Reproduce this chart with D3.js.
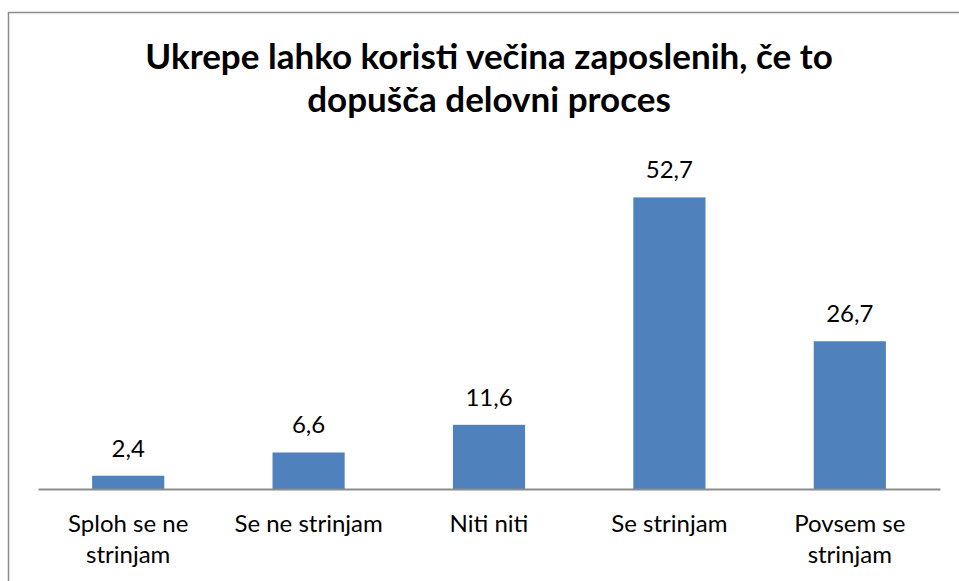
<!DOCTYPE html>
<html>
<head>
<meta charset="utf-8">
<script src="https://cdn.jsdelivr.net/npm/d3@7"></script>
<style>
    body { margin: 0; background: #fff; }
    text { font-family: Lato, "Open Sans", sans-serif; fill: #000; }
</style>
</head>
<body>
<div id="vis"></div>
<script>
var categories = [["Sploh se ne", "strinjam"], ["Se ne strinjam"], ["Niti niti"], ["Se strinjam"], ["Povsem se", "strinjam"]];
var values = [2.4, 6.6, 11.6, 52.7, 26.7];
var valueLabels = ["2,4", "6,6", "11,6", "52,7", "26,7"];
var titleLines = ["Ukrepe lahko koristi večina zaposlenih, če to", "dopušča delovni proces"];

var width = 959,
    height = 581,
    margin = { top: 157, right: 19, bottom: 92, left: 38 },
    drawWidth = width - margin.left - margin.right,
    drawHeight = height - margin.top - margin.bottom;

var svg = d3.select("#vis").append("svg")
    .attr("width", width)
    .attr("height", height);

// chart frame
svg.append("path")
    .attr("d", "M8.5," + height + "V12.5H" + width)
    .attr("fill", "none")
    .attr("stroke", "#8c8c8c")
    .attr("stroke-width", 1.5);

svg.append("text")
    .attr("x", 489)
    .attr("y", 69)
    .attr("text-anchor", "middle")
    .style("font-weight", "bold")
    .style("font-size", "35px")
    .selectAll("tspan")
    .data(titleLines)
    .enter().append("tspan")
    .attr("x", 489)
    .attr("dy", function(d, i) { return i ? 43 : 0; })
    .text(function(d) { return d; });

var g = svg.append("g")
    .attr("transform", "translate(" + margin.left + "," + margin.top + ")");

var x = d3.scaleBand()
    .domain(d3.range(values.length))
    .range([0, drawWidth])
    .paddingInner(0.6)
    .paddingOuter(0.3);

var y = d3.scaleLinear()
    .domain([0, 60])
    .range([drawHeight, 0]);

g.selectAll(".bar")
    .data(values)
    .enter().append("rect")
    .attr("class", "bar")
    .attr("x", function(d, i) { return x(i); })
    .attr("y", function(d) { return y(d); })
    .attr("width", x.bandwidth())
    .attr("height", function(d) { return drawHeight - y(d); })
    .attr("fill", "#4f81bd");

g.selectAll(".value")
    .data(values)
    .enter().append("text")
    .attr("class", "value")
    .attr("x", function(d, i) { return x(i) + x.bandwidth() / 2; })
    .attr("y", function(d) { return y(d) - 19; })
    .attr("text-anchor", "middle")
    .style("font-size", "24px")
    .text(function(d, i) { return valueLabels[i]; });

// x axis
var xAxis = d3.axisBottom(x)
    .tickSize(0)
    .tickFormat("");

var ax = g.append("g")
    .attr("transform", "translate(0," + drawHeight + ")")
    .call(xAxis);
ax.select(".domain").attr("stroke", "#8c8c8c").attr("stroke-width", 2);

g.selectAll(".cat")
    .data(categories)
    .enter().append("text")
    .attr("class", "cat")
    .attr("text-anchor", "middle")
    .style("font-size", "24px")
    .selectAll("tspan")
    .data(function(d, i) { return d.map(function(t) { return { t: t, i: i }; }); })
    .enter().append("tspan")
    .attr("x", function(d) { return x(d.i) + x.bandwidth() / 2; })
    .attr("y", function(d, j) { return drawHeight + 43 + j * 31; })
    .text(function(d) { return d.t; });
</script>
</body>
</html>
